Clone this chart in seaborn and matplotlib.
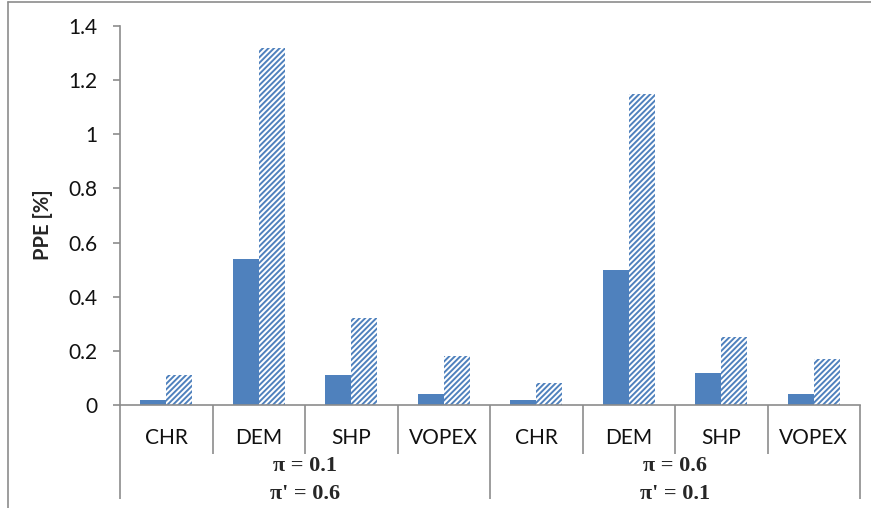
import pandas as pd
import matplotlib.pyplot as plt
import matplotlib.transforms as mtransforms
from matplotlib.lines import Line2D
import seaborn as sns

# values
methods = ["CHR", "DEM", "SHP", "VOPEX"]
group_line1 = ["\u03c0 = 0.1", "\u03c0 = 0.6"]
group_line2 = ["\u03c0' = 0.6", "\u03c0' = 0.1"]
ppe_solid = [0.02, 0.54, 0.11, 0.04, 0.02, 0.50, 0.12, 0.04]
ppe_hatched = [0.11, 1.32, 0.32, 0.18, 0.08, 1.15, 0.25, 0.17]
y_ticks = [0, 0.2, 0.4, 0.6, 0.8, 1.0, 1.2, 1.4]
y_labels = ["0", "0.2", "0.4", "0.6", "0.8", "1", "1.2", "1.4"]

blue = "#4F81BD"
grey = "#8C8C8C"

# long format table for seaborn
slots = [f"{m}_{g}" for g in range(len(group_line1)) for m in methods]
df = pd.DataFrame({
    "slot": slots * 2,
    "series": ["solid"] * len(slots) + ["hatched"] * len(slots),
    "ppe": ppe_solid + ppe_hatched,
})

sns.set_style("white")
plt.rcParams["font.family"] = ["Lato", "DejaVu Sans"]
plt.rcParams["hatch.linewidth"] = 1.4

fig = plt.figure(figsize=(8.71, 5.08), dpi=100)
ax = fig.add_axes([120 / 871, 1 - 405 / 508, 740 / 871, 379 / 508])

sns.barplot(data=df, x="slot", y="ppe", hue="series", order=slots,
            hue_order=["solid", "hatched"], palette=[blue, blue],
            saturation=1, width=0.56, legend=False, ax=ax)

for bar in ax.containers[0]:
    bar.set_linewidth(0)
for bar in ax.containers[1]:
    bar.set_facecolor("white")
    bar.set_edgecolor(blue)
    bar.set_hatch("//////")
    bar.set_linewidth(0)

ax.set_xlim(-0.5, len(slots) - 0.5)
ax.set_ylim(0, 1.4)
ax.set_yticks(y_ticks)
ax.set_yticklabels(y_labels, fontsize=15, color="#111111")
ax.set_xlabel("")
ax.set_ylabel("PPE [%]", fontsize=14.5, fontweight="bold")
ax.yaxis.set_label_coords(-0.09, 0.475)

for side in ["top", "right"]:
    ax.spines[side].set_visible(False)
for side in ["left", "bottom"]:
    ax.spines[side].set_color(grey)
    ax.spines[side].set_linewidth(1.2)

ax.tick_params(axis="y", direction="out", length=5, width=1.2, color=grey,
               left=True, pad=11)

# category separators below the axis: long for groups, short for methods
n = len(methods)
ax.set_xticks([-0.5 + g * n for g in range(len(group_line1) + 1)])
ax.set_xticks([i + 0.5 for i in range(len(slots) - 1) if (i + 1) % n != 0],
              minor=True)
ax.tick_params(axis="x", which="major", direction="out", length=68,
               width=1.2, color=grey, bottom=True, labelbottom=False)
ax.tick_params(axis="x", which="minor", direction="out", length=35,
               width=1.2, color=grey, bottom=True, labelbottom=False)

trans = mtransforms.blended_transform_factory(ax.transData, ax.transAxes)
for i, slot in enumerate(slots):
    ax.text(i, -0.086, methods[i % n], transform=trans, ha="center",
            va="center", fontsize=15, color="#111111")
for g in range(len(group_line1)):
    cx = g * n + (n - 1) / 2
    ax.text(cx, -0.161, group_line1[g], transform=trans, ha="center",
            va="center", fontsize=16, fontweight="bold",
            family=["Liberation Serif", "DejaVu Serif"])
    ax.text(cx, -0.235, group_line2[g], transform=trans, ha="center",
            va="center", fontsize=16, fontweight="bold",
            family=["Liberation Serif", "DejaVu Serif"])

# chart area border (top and left visible in the reference)
fig.add_artist(Line2D([8 / 871, 1], [1 - 2 / 508, 1 - 2 / 508],
                      transform=fig.transFigure, color=grey, lw=1.2))
fig.add_artist(Line2D([8 / 871, 8 / 871], [0, 1 - 2 / 508],
                      transform=fig.transFigure, color=grey, lw=1.2))

fig.savefig("out.png", dpi=100)
